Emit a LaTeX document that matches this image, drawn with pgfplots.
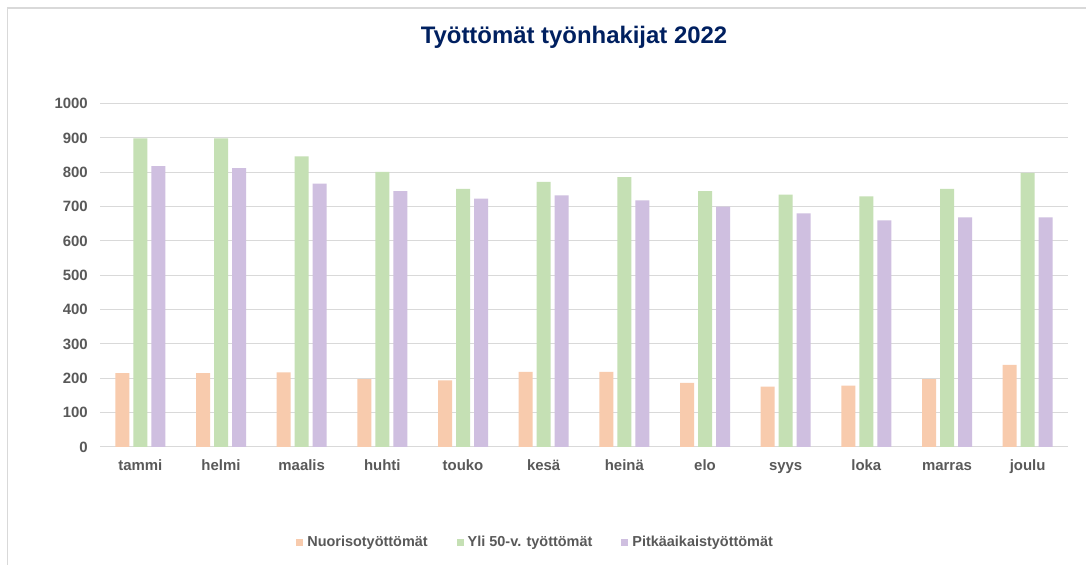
\documentclass[border=0pt]{standalone}
\usepackage{fontspec}
\setmainfont{Liberation Sans}
\usepackage{pgfplots}
\pgfplotsset{compat=1.18}
\definecolor{cOr}{HTML}{F8CBAD}
\definecolor{cGr}{HTML}{C5E0B4}
\definecolor{cPu}{HTML}{CFBFE0}
\definecolor{txt}{HTML}{595959}
\definecolor{grd}{HTML}{D9D9D9}
\definecolor{ttl}{HTML}{002060}
\begin{document}
\begin{tikzpicture}
\useasboundingbox (0,0) rectangle (1086bp,565bp);
\fill[white] (0,0) rectangle (1086bp,565bp);
\draw[grd, line width=1.5bp] (7.5bp,0) -- (7.5bp,557bp) -- (1086bp,557bp);
\node[font=\fontsize{24}{28}\selectfont\bfseries, text=ttl] at (574bp,528bp) {Työttömät työnhakijat 2022};
\begin{axis}[
 at={(100bp,118bp)}, anchor=south west,
 scale only axis, width=968bp, height=343.4bp,
 ybar=4bp, bar width=14bp,
 xmin=-0.5, xmax=11.5, ymin=0, ymax=1000,
 ytick={0,100,...,1000},
 xtick={0,...,11},
 xticklabels={tammi,helmi,maalis,huhti,touko,kesä,heinä,elo,syys,loka,marras,joulu},
 axis line style={draw=none},
 ymajorgrids, major grid style={grd, line width=1bp},
 major tick length=0pt,
 tick label style={font=\fontsize{15}{18}\selectfont\bfseries, text=txt},
 /pgf/number format/assume math mode=true,
 /pgf/number format/1000 sep={},
 yticklabel style={anchor=east, inner sep=0pt, xshift=-12bp},
 xticklabel style={anchor=north, inner sep=0pt, yshift=-12bp, text height=11bp, text depth=3bp},
 legend columns=3,
 legend style={at={(axis description cs:0.449,-0.277)}, anchor=center, draw=none, fill=none,
   font=\fontsize{14.5}{17}\selectfont\bfseries, text=txt,
   nodes={inner sep=0pt, anchor=west, text=txt},
   /tikz/every even column/.append style={column sep=29bp},
   /tikz/every odd column/.append style={column sep=4bp}},
 legend image code/.code={\fill[#1] (0bp,-3.5bp) rectangle (7bp,3.5bp);},
]
\addplot[fill=cOr, draw=none] coordinates {(0,215) (1,215) (2,217) (3,198) (4,194) (5,219) (6,219) (7,187) (8,176) (9,179) (10,198) (11,239)};
\addlegendentry{Nuorisotyöttömät}
\addplot[fill=cGr, draw=none] coordinates {(0,899) (1,899) (2,846) (3,801) (4,752) (5,772) (6,786) (7,745) (8,735) (9,730) (10,752) (11,798)};
\addlegendentry{Yli 50-v. työttömät}
\addplot[fill=cPu, draw=none] coordinates {(0,818) (1,812) (2,767) (3,745) (4,723) (5,733) (6,718) (7,700) (8,680) (9,660) (10,669) (11,669)};
\addlegendentry{Pitkäaikaistyöttömät}
\end{axis}
\end{tikzpicture}
\end{document}
